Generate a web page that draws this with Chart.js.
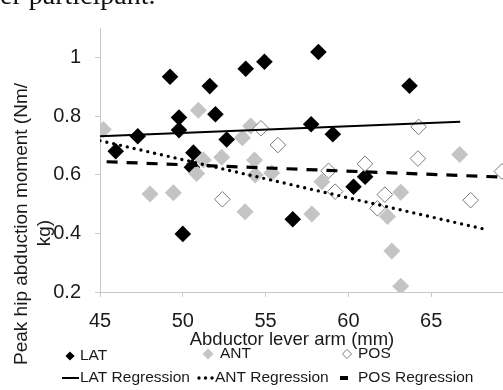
<!DOCTYPE html>
<html><head><meta charset="utf-8">
<script src="https://cdn.jsdelivr.net/npm/chart.js@4"></script>
<style>
html,body{margin:0;padding:0;overflow:hidden;background:#fff;width:503px;height:390px;}
#wrap{position:absolute;left:0;top:0;width:540px;height:390px;}
#cap{position:absolute;left:-14px;top:-19px;font:28px "Liberation Serif","DejaVu Serif",serif;white-space:nowrap;line-height:28px;color:#111;}
</style></head><body>
<div id="wrap"><canvas id="c" width="540" height="390"></canvas></div>
<div id="cap">per participant.</div>
<script>
// ---- data ----
const xTickValues = [45, 50, 55, 60, 65, 70];
const yTickValues = [0.2, 0.4, 0.6, 0.8, 1.0];
const xTitle = 'Abductor lever arm (mm)';
const yTitleLines = ['Peak hip abduction moment (Nm/', 'kg)'];

const latX = [45.95, 47.28, 49.23, 49.77, 49.77, 50.00, 50.64, 50.55, 51.63, 51.97, 52.65, 53.80, 54.93, 56.64, 57.75, 58.19, 59.06, 60.31, 61.01, 63.69];
const latY = [0.680, 0.731, 0.934, 0.795, 0.752, 0.398, 0.675, 0.625, 0.902, 0.806, 0.720, 0.961, 0.985, 0.448, 0.772, 1.018, 0.738, 0.559, 0.593, 0.903];

const antX = [45.20, 48.02, 49.43, 50.84, 50.94, 51.24, 52.35, 53.60, 53.76, 54.10, 54.33, 54.37, 55.37, 57.79, 58.40, 62.36, 62.62, 63.16, 63.16, 66.72];
const antY = [0.754, 0.534, 0.538, 0.604, 0.820, 0.650, 0.659, 0.726, 0.474, 0.766, 0.650, 0.599, 0.606, 0.466, 0.576, 0.457, 0.340, 0.540, 0.220, 0.669];

const posX = [52.39, 54.72, 55.74, 58.80, 59.20, 61.00, 61.75, 62.20, 64.20, 64.24, 67.38, 69.27];
const posY = [0.516, 0.758, 0.701, 0.613, 0.542, 0.637, 0.485, 0.532, 0.655, 0.763, 0.513, 0.611];

const latRegX = [45, 66.75], latRegY = [0.731, 0.780];
const antRegX = [45, 68.46], antRegY = [0.716, 0.411];
const posRegX = [45.4, 70],  posRegY = [0.644, 0.590];

// ---- chart ----
const FONT = '"Liberation Sans", Arial, sans-serif';
const pts = (xs, ys) => xs.map((x, i) => ({x: x, y: ys[i]}));

const datasets = [
  {label: 'LAT Regression', data: pts(latRegX, latRegY), showLine: true, borderColor: '#000', borderWidth: 2,
   pointRadius: 0, order: 0, kind: 'solid'},
  {label: 'ANT Regression', data: pts(antRegX, antRegY), showLine: true, borderColor: '#000', borderWidth: 3.4,
   borderDash: [0, 7], borderCapStyle: 'round', pointRadius: 0, order: 0, kind: 'dot'},
  {label: 'POS Regression', data: pts(posRegX, posRegY), showLine: true, borderColor: '#000', borderWidth: 3.2,
   borderDash: [11, 9], pointRadius: 0, order: 0, kind: 'dash'},
  {label: 'POS', data: pts(posX, posY), pointStyle: 'rectRot', pointRadius: 7.8, backgroundColor: '#fff',
   borderColor: '#7a7a7a', borderWidth: 1, order: 1, kind: 'point'},
  {label: 'ANT', data: pts(antX, antY), pointStyle: 'rectRot', pointRadius: 8.5, backgroundColor: '#c4c4c4',
   borderColor: '#c4c4c4', borderWidth: 0, order: 2, kind: 'point'},
  {label: 'LAT', data: pts(latX, latY), pointStyle: 'rectRot', pointRadius: 8.3, backgroundColor: '#000',
   borderColor: '#000', borderWidth: 0, order: 3, kind: 'point'}
];

// legend layout (style only): label -> [marker x, marker y, text x]
const legendPos = {
  'LAT': [70, 356, 80], 'ANT': [208, 354, 220], 'POS': [347, 354, 358],
  'LAT Regression': [70.5, 378, 80], 'ANT Regression': [205.5, 378, 215], 'POS Regression': [344, 378, 358]
};

const decor = {
  id: 'decor',
  afterDraw(chart) {
    const ctx = chart.ctx;
    ctx.save();
    ctx.fillStyle = '#1a1a1a';
    ctx.textBaseline = 'middle';
    // x title
    ctx.font = '18.5px ' + FONT;
    ctx.textAlign = 'center';
    ctx.fillText(xTitle, 292, 340);
    // y title
    ctx.font = '19px ' + FONT;
    const yPos = [[22, 224], [45, 233]];
    yTitleLines.forEach((t, i) => {
      ctx.save();
      ctx.translate(yPos[i][0], yPos[i][1]);
      ctx.rotate(-Math.PI / 2);
      ctx.fillText(t, 0, 0);
      ctx.restore();
    });
    // legend
    ctx.font = '15.5px ' + FONT;
    ctx.textAlign = 'left';
    chart.data.datasets.forEach(ds => {
      const p = legendPos[ds.label];
      if (!p) return;
      const mx = p[0], my = p[1];
      ctx.save();
      if (ds.kind === 'point') {
        const r = ds.label === 'ANT' ? 5.5 : 4.6;
        ctx.beginPath();
        ctx.moveTo(mx - r, my); ctx.lineTo(mx, my - r); ctx.lineTo(mx + r, my); ctx.lineTo(mx, my + r); ctx.closePath();
        ctx.fillStyle = ds.backgroundColor; ctx.fill();
        if (ds.borderWidth) { ctx.strokeStyle = ds.borderColor; ctx.lineWidth = ds.borderWidth; ctx.stroke(); }
      } else if (ds.kind === 'solid') {
        ctx.strokeStyle = '#000'; ctx.lineWidth = 2;
        ctx.beginPath(); ctx.moveTo(62, my); ctx.lineTo(79, my); ctx.stroke();
      } else if (ds.kind === 'dot') {
        ctx.fillStyle = '#000';
        [199, 205.5, 212].forEach(dx => { ctx.beginPath(); ctx.arc(dx, my, 1.7, 0, Math.PI * 2); ctx.fill(); });
      } else if (ds.kind === 'dash') {
        ctx.fillStyle = '#000';
        ctx.fillRect(340, my - 2, 8, 4);
      }
      ctx.restore();
      ctx.fillStyle = '#1a1a1a';
      ctx.fillText(ds.label, p[2], my);
    });
    ctx.restore();
  }
};

new Chart(document.getElementById('c'), {
  type: 'scatter',
  data: {datasets: datasets},
  options: {
    responsive: false,
    animation: false,
    events: [],
    layout: {padding: {left: 0, top: 28, right: 26, bottom: 0}},
    plugins: {legend: {display: false}, tooltip: {enabled: false}},
    scales: {
      x: {
        type: 'linear', min: 45, max: 70,
        afterBuildTicks: s => { s.ticks = xTickValues.map(v => ({value: v})); },
        afterFit: s => { s.height = 98; },
        ticks: {font: {family: FONT, size: 20}, color: '#1a1a1a', padding: 12, maxRotation: 0, autoSkip: false},
        grid: {drawOnChartArea: false, drawTicks: true, tickLength: 5, color: '#c8c8c8'},
        border: {color: '#c8c8c8', width: 1}
      },
      y: {
        type: 'linear', min: 0.2, max: 1.1,
        afterBuildTicks: s => { s.ticks = yTickValues.map(v => ({value: v})); },
        afterFit: s => { s.width = 100; },
        ticks: {font: {family: FONT, size: 20}, color: '#1a1a1a', padding: 14,
                callback: v => String(+Number(v).toFixed(1))},
        grid: {drawOnChartArea: false, drawTicks: true, tickLength: 5, color: '#c8c8c8'},
        border: {color: '#c8c8c8', width: 1}
      }
    }
  },
  plugins: [decor]
});
</script></body></html>
